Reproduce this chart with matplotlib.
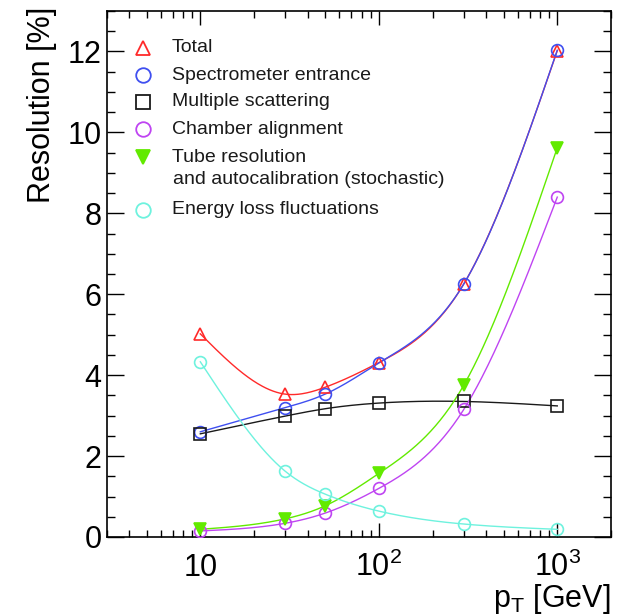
import numpy as np
import matplotlib
matplotlib.use('Agg')
import matplotlib.pyplot as plt
from matplotlib.ticker import FixedLocator, NullFormatter, MultipleLocator

plt.rcParams['font.family'] = ['Liberation Sans', 'DejaVu Sans']
plt.rcParams['mathtext.fontset'] = 'custom'
plt.rcParams['mathtext.rm'] = 'Liberation Sans'
plt.rcParams['mathtext.it'] = 'Liberation Sans:italic'

# pT points (GeV) and resolution contributions (%)
pt = [10, 30, 50, 100, 300, 1000]
total = [5.02, 3.53, 3.70, 4.31, 6.26, 12.02]
spectrometer = [2.60, 3.20, 3.53, 4.30, 6.26, 12.03]
mult_scatt = [2.55, 2.99, 3.17, 3.31, 3.35, 3.24]
alignment = [0.15, 0.34, 0.59, 1.20, 3.16, 8.40]
tube_res = [0.19, 0.45, 0.77, 1.57, 3.76, 9.62]
eloss = [4.33, 1.62, 1.06, 0.64, 0.32, 0.19]

labels = ['Total', 'Spectrometer entrance', 'Multiple scattering',
          'Chamber alignment', 'Tube resolution\nand autocalibration (stochastic)',
          'Energy loss fluctuations']


def spline(xs, ys, xn):
    # natural cubic spline through the points
    x = np.asarray(xs, float)
    y = np.asarray(ys, float)
    n = len(x)
    h = np.diff(x)
    A = np.zeros((n, n))
    r = np.zeros(n)
    A[0, 0] = A[-1, -1] = 1
    for i in range(1, n - 1):
        A[i, i - 1] = h[i - 1]
        A[i, i] = 2 * (h[i - 1] + h[i])
        A[i, i + 1] = h[i]
        r[i] = 3 * ((y[i + 1] - y[i]) / h[i] - (y[i] - y[i - 1]) / h[i - 1])
    c = np.linalg.solve(A, r)
    b = (y[1:] - y[:-1]) / h - h * (2 * c[:-1] + c[1:]) / 3
    d = (c[1:] - c[:-1]) / (3 * h)
    k = np.clip(np.searchsorted(x, xn) - 1, 0, n - 2)
    t = xn - x[k]
    return y[k] + b[k] * t + c[k] * t ** 2 + d[k] * t ** 3


fig = plt.figure(figsize=(6.21, 6.16), dpi=100)
ax = fig.add_axes([107 / 621, 1 - 537 / 616, 504 / 621, 526 / 616])

series = [
    (total, '^', '#ff2a2a', False),
    (spectrometer, 'o', '#3f4ff0', False),
    (mult_scatt, 's', '#1a1a1a', False),
    (alignment, 'o', '#bf44f2', False),
    (tube_res, 'v', '#62ea00', True),
    (eloss, 'o', '#6ef2de', False),
]

lx = np.log10(pt)
xf = np.linspace(lx[0], lx[-1], 300)
for vals, mk, col, filled in series:
    ax.plot(10 ** xf, spline(lx, vals, xf), color=col, lw=1.0, zorder=2)
for vals, mk, col, filled in series:
    ax.plot(pt, vals, ls='none', marker=mk, ms=8.5, mew=1.2, color=col,
            mfc=col if filled else 'none', zorder=3)

# legend
rows_y = [48, 75, 102, 129, 157, 210]
for (vals, mk, col, filled), lab, yp in zip(series, labels, rows_y):
    yf = (537 - yp) / 526
    ax.plot([0.0714], [yf], transform=ax.transAxes, marker=mk, ms=10.5, mew=1.3,
            color=col, mfc=col if filled else 'none', clip_on=False, ls='none')
    lines = lab.split('\n')
    for j, line in enumerate(lines):
        ax.text(0.128 + 0.003 * j, yf - j * 23 / 526, line, transform=ax.transAxes,
                fontsize=14, va='center', ha='left', color='#1a1a1a')

ax.set_xscale('log')
ax.set_xlim(3, 2000)
ax.set_ylim(0, 13)

ax.xaxis.set_major_locator(FixedLocator([10, 100, 1000]))
ax.xaxis.set_minor_locator(FixedLocator(
    [v * 10 ** e for e in range(0, 4) for v in range(2, 10) if 3 <= v * 10 ** e <= 2000]))
ax.xaxis.set_minor_formatter(NullFormatter())
ax.set_xticklabels(['$\\mathregular{10}$', '$\\mathregular{10^{2}}$', '$\\mathregular{10^{3}}$'])
ax.yaxis.set_major_locator(MultipleLocator(2))
ax.yaxis.set_minor_locator(MultipleLocator(0.5))

ax.tick_params(axis='both', which='both', direction='in', top=True, right=True,
               labelsize=22, colors='black')
ax.tick_params(axis='y', which='major', length=12, width=1, pad=4)
ax.tick_params(axis='y', which='minor', length=6, width=1)
ax.tick_params(axis='x', which='major', length=10, width=1, pad=28)
ax.tick_params(axis='x', which='minor', length=5, width=1)
plt.setp(ax.get_xticklabels(), va='baseline')
for sp in ax.spines.values():
    sp.set_linewidth(1.2)

ax.set_ylabel('Resolution [%]', fontsize=22, loc='top')
ax.yaxis.set_label_coords(-0.1, 1.008)
ax.set_xlabel('$\\mathregular{p_{T}}$ [GeV]', fontsize=22, loc='right')
ax.xaxis.set_label_coords(1.0, -0.086)

fig.savefig('out.png', dpi=100, facecolor='white')
